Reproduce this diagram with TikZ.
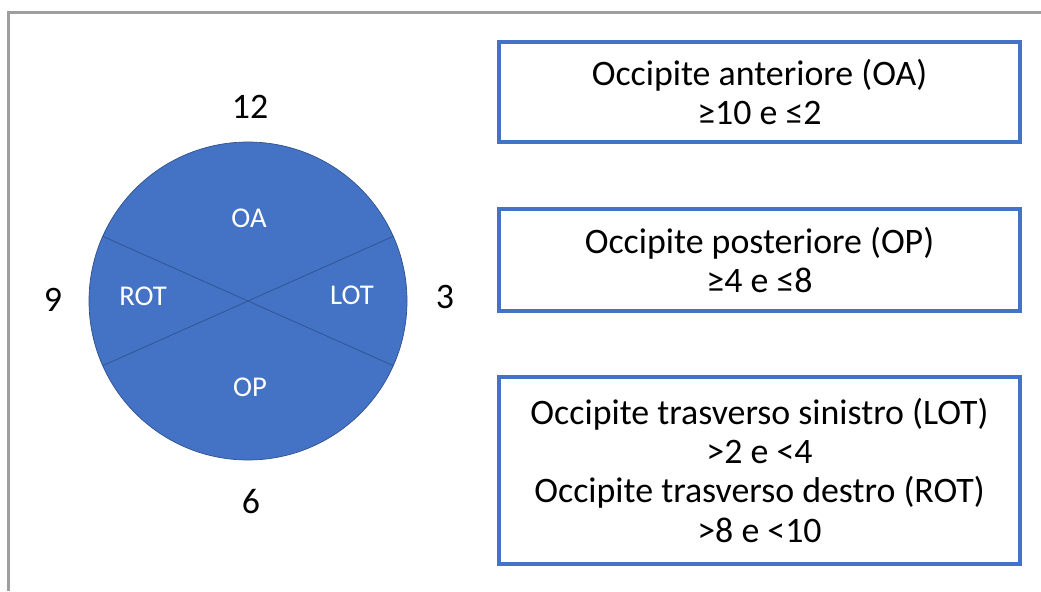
\documentclass[tikz,border=0pt]{standalone}
\usepackage{fontspec}
\setmainfont{Carlito}
\usetikzlibrary{calc}
\definecolor{officeblue}{HTML}{4472C4}
\definecolor{officedark}{HTML}{2F528F}
\begin{document}
\begin{tikzpicture}[
	infobox/.style={draw=officeblue, line width=1.9pt, minimum width=10.42cm, align=center, inner sep=0pt, font=\fontsize{20.4}{22.2}\selectfont},
	hour/.style={font=\fontsize{20.4}{22.2}\selectfont},
	sector/.style={text=white, font=\fontsize{16.3}{18}\selectfont}]
		\useasboundingbox (0,0) rectangle (20.82,11.82);
		\draw[line width=1.2pt, color=gray!75] (0.17,0) -- (0.17,11.57) -- (20.82,11.57);
		\coordinate (c) at (4.96,5.80);
		\filldraw[fill=officeblue, draw=officedark, thin] (c) circle (3.18);
		\draw[officedark, thin] ($(c)+(156:3.18)$) -- ($(c)+(-24:3.18)$);
		\draw[officedark, thin] ($(c)+(204:3.18)$) -- ($(c)+(24:3.18)$);
		\node[hour] (h12) at (5.0,9.68) {12};
		\node[hour] (h9) at (1.06,5.82) {9};
		\node[hour] (h3) at (8.9,5.88) {3};
		\node[hour] (h6) at (5.02,1.78) {6};
		\node[sector] (oa) at (4.98,7.46) {OA};
		\node[sector] (rot) at (2.86,5.9) {ROT};
		\node[sector] (lot) at (7.04,5.92) {LOT};
		\node[sector] (op) at (5.0,4.08) {OP};
		\node[infobox, minimum height=2.0cm] (boxoa) at (15.19,9.98) {Occipite anteriore (OA)\\≥10 e ≤2};
		\node[infobox, minimum height=2.04cm] (boxop) at (15.19,6.62) {Occipite posteriore (OP)\\≥4 e ≤8};
		\node[infobox, minimum height=3.74cm] (boxot) at (15.19,2.41) {Occipite trasverso sinistro (LOT)\\>2 e <4\\Occipite trasverso destro (ROT)\\>8 e <10};
	\end{tikzpicture}
\end{document}
